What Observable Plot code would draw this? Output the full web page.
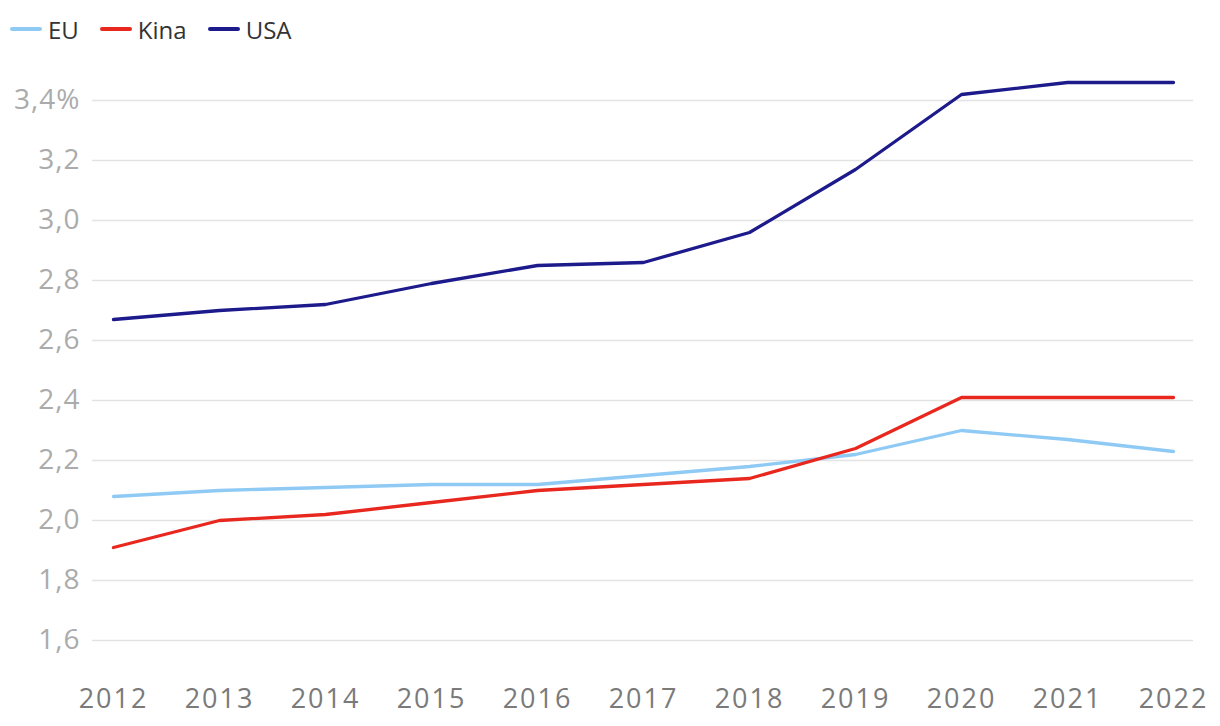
<!DOCTYPE html>
<html><head><meta charset="utf-8">
<script src="https://cdn.jsdelivr.net/npm/d3@7"></script>
<script src="https://cdn.jsdelivr.net/npm/@observablehq/plot@0.6"></script>
<style>
body{margin:0;background:#fff;font-family:"Open Sans",sans-serif;}
#legend{height:58px;display:flex;align-items:center;padding-left:10px;box-sizing:border-box;}
.item{display:flex;align-items:center;margin-right:21px;font-size:24px;color:#333;}
.sw{width:32px;height:4px;border-radius:2px;margin-right:6px;}
g[aria-label="x-axis tick label"] text{letter-spacing:2px;}
g[aria-label="y-axis tick label"] text{letter-spacing:1px;}
</style></head>
<body>
<div id="legend"></div>
<div id="chart"></div>
<script>
const years = [2012,2013,2014,2015,2016,2017,2018,2019,2020,2021,2022];
const eu   = [2.08,2.10,2.11,2.12,2.12,2.15,2.18,2.22,2.30,2.27,2.23];
const kina = [1.91,2.00,2.02,2.06,2.10,2.12,2.14,2.24,2.41,2.41,2.41];
const usa  = [2.67,2.70,2.72,2.79,2.85,2.86,2.96,3.17,3.42,3.46,3.46];
const seriesNames = ["EU","Kina","USA"];
const colors = ["#8fcaf5","#e8281e","#1d1a8c"];
const yTicks = [1.6,1.8,2.0,2.2,2.4,2.6,2.8,3.0,3.2,3.4];

const data = [];
[eu,kina,usa].forEach((arr,i)=>arr.forEach((v,j)=>data.push({serie:seriesNames[i],year:years[j],value:v})));

const leg = document.getElementById("legend");
seriesNames.forEach((n,i)=>{
  const d=document.createElement("div");d.className="item";
  d.innerHTML=`<span class="sw" style="background:${colors[i]}"></span>${n}`;
  leg.appendChild(d);
});

const chart = Plot.plot({
  width:1220, height:668,
  marginLeft:113, marginRight:47, marginTop:42, marginBottom:86,
  style:{fontFamily:"'Open Sans',sans-serif",background:"#fff"},
  x:{domain:[2012,2022]},
  y:{domain:[1.6,3.4]},
  color:{domain:seriesNames,range:colors},
  marks:[
    Plot.ruleY(yTicks,{stroke:"#e3e3e3",strokeWidth:1.5,insetLeft:-21,insetRight:-20}),
    Plot.axisY(yTicks,{tickSize:0,tickPadding:33,fontSize:28,fill:"#ababab",
      tickFormat:d=>d.toFixed(1).replace(".",",")+(d===3.4?"%":""),label:null}),
    Plot.axisX(years,{tickSize:0,tickPadding:48,fontSize:27,fill:"#7a7a7a",tickFormat:d=>String(d),label:null}),
    Plot.line(data,{x:"year",y:"value",z:"serie",stroke:"serie",strokeWidth:3.3,strokeLinejoin:"round",strokeLinecap:"round"})
  ]
});
document.getElementById("chart").appendChild(chart);
</script>
</body></html>
